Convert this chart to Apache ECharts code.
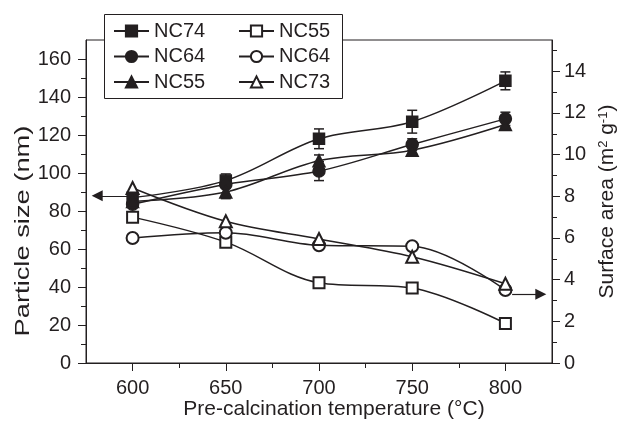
<!DOCTYPE html>
<html>
<head>
<meta charset="utf-8">
<script src="https://cdn.jsdelivr.net/npm/echarts@6/dist/echarts.min.js"></script>
<style>
  html, body { margin: 0; padding: 0; background: #fff; }
  #chart { width: 617px; height: 421px; }
</style>
</head>
<body>
<div id="chart"></div>
<script>
// Pre-calcination temperatures (°C)
const temperatures = [600, 650, 700, 750, 800];

// Particle size (nm), left axis, with ± error
const sizeNC74 = [87, 96, 118, 127, 148.5];
const sizeNC64 = [83.5, 94, 101, 115, 128.5];
const sizeNC55 = [85, 90, 106.5, 112, 125.5];
const errNC74 = [2, 3.5, 5.2, 6, 4.7];
const errNC64 = [1.5, 2, 5, 3, 3.5];
const errNC55 = [1.5, 3.5, 3, 2, 2];

// Surface area (m2 g-1), right axis
const areaNC55 = [7.0, 5.8, 3.85, 3.6, 1.9];
const areaNC64 = [6.0, 6.25, 5.65, 5.6, 3.5];
const areaNC73 = [8.4, 6.8, 5.95, 5.1, 3.8];

// Tick positions
const xMajorTicks = [600, 650, 700, 750, 800];
const xMinorTicks = [625, 675, 725, 775];
const leftMajorTicks = [0, 20, 40, 60, 80, 100, 120, 140, 160];
const leftMinorTicks = [10, 30, 50, 70, 90, 110, 130, 150];
const rightMajorTicks = [0, 2, 4, 6, 8, 10, 12, 14];
const rightMinorTicks = [1, 3, 5, 7, 9, 11, 13, 15];

// Arrows pointing each group of curves to its axis
const sizeArrow = { from: 581, to: 599, level: 88 };
const areaArrow = { from: 803.6, to: 819, level: 3.3 };

// Legend entries: first column (particle size), second column (surface area)
const legendSize = ['NC74 size', 'NC64 size', 'NC55 size'];
const legendArea = ['NC55 area', 'NC64 area', 'NC73 area'];

const ink = '#231f20';
const font = "'Liberation Sans', Arial, sans-serif";
const chart = echarts.init(document.getElementById('chart'));

function pairs(values) {
  return temperatures.map((t, i) => [t, values[i]]);
}

function curve(name, values, symbol, size, yAxisIndex, extra) {
  return Object.assign({
    name: name,
    type: 'line',
    xAxisIndex: 0,
    yAxisIndex: yAxisIndex,
    data: pairs(values),
    smooth: 0.35,
    symbol: symbol,
    symbolSize: size,
    showAllSymbol: true,
    lineStyle: { color: ink, width: 1.5 },
    itemStyle: { color: ink, borderColor: ink, borderWidth: 1.5 },
    emphasis: { disabled: true },
    z: 3
  }, extra || {});
}

function errorBars(values, errs) {
  return {
    type: 'custom',
    xAxisIndex: 0,
    yAxisIndex: 0,
    silent: true,
    z: 2,
    data: temperatures.map((t, i) => [t, values[i] - errs[i], values[i] + errs[i]]),
    encode: { x: 0, y: [1, 2] },
    renderItem: function (params, api) {
      const x = api.value(0);
      const lo = api.coord([x, api.value(1)]);
      const hi = api.coord([x, api.value(2)]);
      const hw = 5;
      const st = { stroke: ink, lineWidth: 1.5 };
      return {
        type: 'group',
        children: [
          { type: 'line', shape: { x1: lo[0], y1: lo[1], x2: hi[0], y2: hi[1] }, style: st },
          { type: 'line', shape: { x1: lo[0] - hw, y1: lo[1], x2: lo[0] + hw, y2: lo[1] }, style: st },
          { type: 'line', shape: { x1: hi[0] - hw, y1: hi[1], x2: hi[0] + hw, y2: hi[1] }, style: st }
        ]
      };
    }
  };
}

function arrow(a, startSymbol, endSymbol) {
  return {
    silent: true,
    symbol: [startSymbol, endSymbol],
    symbolSize: 11,
    label: { show: false },
    lineStyle: { color: ink, width: 1.2, type: 'solid' },
    itemStyle: { color: ink },
    data: [[{ coord: [a.from, a.level] }, { coord: [a.to, a.level] }]]
  };
}

const axisText = { color: ink, fontSize: 20, fontFamily: font };

function tickAxis(base, ticks, len, withLabels, extra) {
  return Object.assign({
    type: 'value',
    splitLine: { show: false },
    axisLine: { show: withLabels, lineStyle: { color: ink, width: 1 } },
    axisTick: { show: true, inside: false, length: len, customValues: ticks, lineStyle: { color: ink, width: 1 } },
    axisLabel: withLabels
      ? Object.assign({ customValues: ticks }, axisText)
      : { show: false }
  }, base, extra || {});
}

function legendColumn(left, names) {
  return {
    orient: 'vertical',
    left: left,
    top: 21,
    padding: 0,
    itemWidth: 35,
    itemHeight: 14,
    itemGap: 5.5,
    z: 5,
    textStyle: { color: ink, fontSize: 20, fontFamily: font },
    formatter: function (name) { return name.split(' ')[0]; },
    data: names
  };
}

const option = {
  animation: false,
  backgroundColor: '#fff',
  grid: {
    left: 86, right: 65, top: 40, bottom: 58,
    outerBoundsMode: 'none',
    show: true, borderColor: ink, borderWidth: 1, backgroundColor: 'transparent'
  },
  legend: [legendColumn(113, legendSize), legendColumn(238, legendArea)],
  graphic: [
    {
      type: 'rect', left: 104, top: 14, z: 4,
      shape: { width: 238, height: 84 },
      style: { fill: '#fff', stroke: ink, lineWidth: 1 }
    },
    {
      type: 'text', x: 23, y: 231, rotation: Math.PI / 2, scaleX: 1.3, z: 4,
      style: {
        text: 'Particle size (nm)', fill: ink,
        font: '21px ' + font, textAlign: 'center', textVerticalAlign: 'middle'
      }
    }
  ],
  xAxis: [
    tickAxis({ min: 575, max: 825, position: 'bottom' }, xMajorTicks, 8, true, {
      name: 'Pre-calcination temperature (°C)',
      nameLocation: 'middle',
      nameGap: 36,
      nameMoveOverlap: false,
      nameTextStyle: { color: ink, fontSize: 21, fontFamily: font, padding: [0, 0, 0, 30] },
      axisLabel: Object.assign({ customValues: xMajorTicks, margin: 15 }, axisText)
    }),
    tickAxis({ min: 575, max: 825, position: 'bottom' }, xMinorTicks, 5, false)
  ],
  yAxis: [
    tickAxis({ min: 0, max: 170, position: 'left' }, leftMajorTicks, 8, true, {
      axisLabel: Object.assign({ customValues: leftMajorTicks, margin: 15 }, axisText)
    }),
    tickAxis({ min: 0, max: 170, position: 'left' }, leftMinorTicks, 5, false),
    tickAxis({ min: 0, max: 15.5, position: 'right' }, rightMajorTicks, 8, true, {
      name: 'Surface area (m{sup|2} g{sup|-1})',
      nameLocation: 'middle',
      nameRotate: 90,
      nameGap: 41,
      nameTextStyle: {
        color: ink, fontSize: 21, fontFamily: font,
        rich: { sup: { fontSize: 13, fontFamily: font, color: ink, verticalAlign: 'top', padding: [0, 0, 8, 0] } }
      },
      axisLabel: Object.assign({ customValues: rightMajorTicks, margin: 12 }, axisText)
    }),
    tickAxis({ min: 0, max: 15.5, position: 'right' }, rightMinorTicks, 5, false)
  ],
  series: [
    curve('NC55 area', areaNC55, 'emptyRect', 11, 2),
    curve('NC64 area', areaNC64, 'emptyCircle', 12, 2),
    curve('NC73 area', areaNC73, 'emptyTriangle', 12, 2, { markLine: arrow(areaArrow, 'none', 'triangle') }),
    errorBars(sizeNC74, errNC74),
    errorBars(sizeNC64, errNC64),
    errorBars(sizeNC55, errNC55),
    curve('NC74 size', sizeNC74, 'rect', 11, 0, { markLine: arrow(sizeArrow, 'triangle', 'none') }),
    curve('NC64 size', sizeNC64, 'circle', 12, 0),
    curve('NC55 size', sizeNC55, 'triangle', 12, 0)
  ]
};

chart.setOption(option);
</script>
</body>
</html>
